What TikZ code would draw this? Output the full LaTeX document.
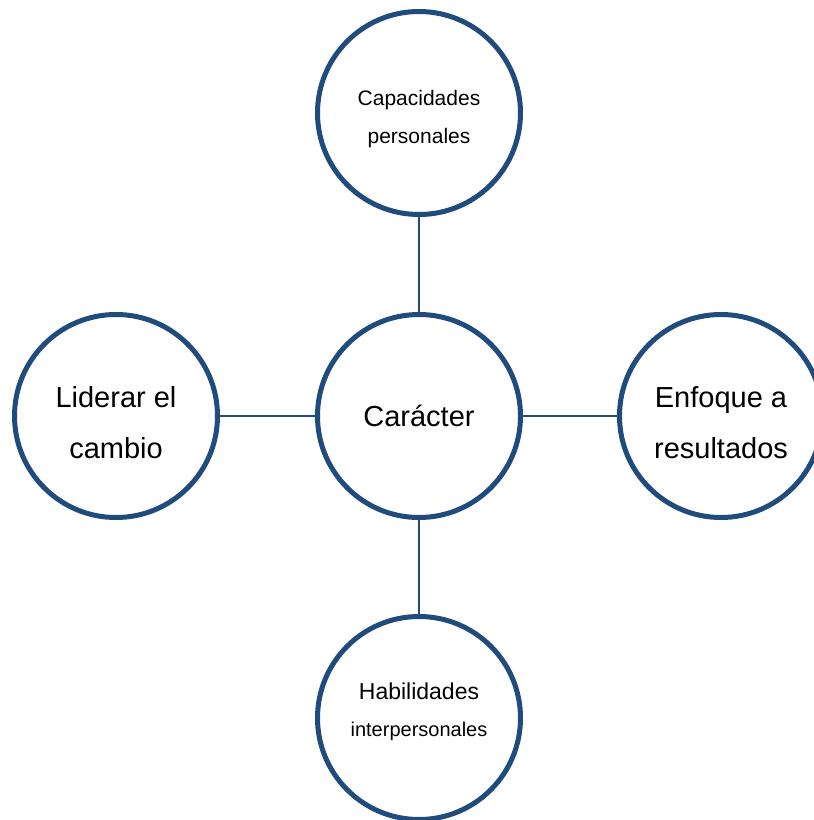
\documentclass[tikz,border=0pt]{standalone}
\usepackage{fontspec}
\setmainfont{Liberation Sans}
\definecolor{ringblue}{RGB}{31,75,125}
\begin{document}
\begin{tikzpicture}[x=1pt,y=-1pt,
  ring/.style={circle,draw=ringblue,line width=5pt,minimum size=203pt,inner sep=0pt,fill=white},
  txt/.style={anchor=base,inner sep=0pt},
  big/.style={txt,font=\fontsize{29}{34}\selectfont},
  small/.style={txt,font=\fontsize{21}{25}\selectfont},
  link/.style={draw=ringblue,line width=2pt}]
\useasboundingbox (0,0) rectangle (814,820);
\node[ring] (c) at (419,416) {};
\node[ring] (t) at (419,113) {};
\node[ring] (b) at (419,718) {};
\node[ring] (l) at (116,416) {};
\node[ring] (r) at (721,416) {};
\draw[link] (c) -- (t);
\draw[link] (c) -- (b);
\draw[link] (c) -- (l);
\draw[link] (c) -- (r);
\node[big] (c1) at (419,426) {Carácter};
\node[small] (t1) at (419,105) {Capacidades};
\node[small] (t2) at (419,143) {personales};
\node[txt,font=\fontsize{23}{27}\selectfont] (b1) at (419,699) {Habilidades};
\node[txt,font=\fontsize{20}{24}\selectfont] (b2) at (419,736) {interpersonales};
\node[big] (l1) at (116,407) {Liderar el};
\node[big] (l2) at (116,458) {cambio};
\node[big] (r1) at (721,407) {Enfoque a};
\node[big] (r2) at (721,458) {resultados};
\end{tikzpicture}
\end{document}
